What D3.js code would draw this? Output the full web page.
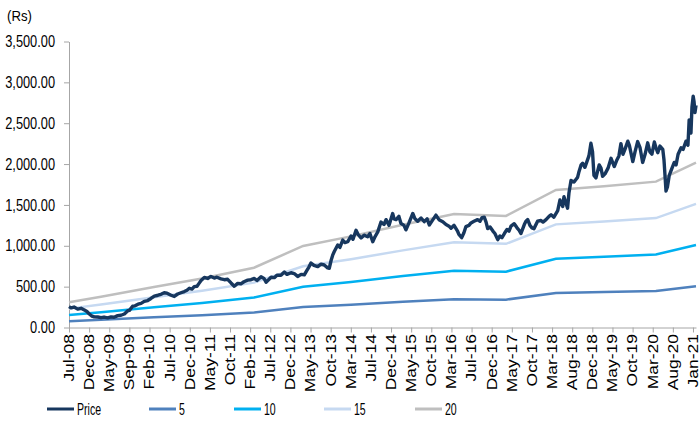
<!DOCTYPE html>
<html>
<head>
<meta charset="utf-8">
<script src="https://cdn.jsdelivr.net/npm/d3@7/dist/d3.min.js"></script>
<style>
  body { margin: 0; background: #fff; }
  svg text { font-family: "Liberation Sans", Arial, sans-serif; fill: #000; }
</style>
</head>
<body>
<div id="chart"></div>
<script>
// x axis: trading-day index, a label every 100 days
const tickLabels = ["Jul-08","Dec-08","May-09","Sep-09","Feb-10","Jul-10","Dec-10","May-11","Oct-11","Feb-12",
  "Jul-12","Dec-12","May-13","Oct-13","Mar-14","Jul-14","Dec-14","May-15","Oct-15","Mar-16",
  "Jul-16","Dec-16","May-17","Oct-17","Mar-18","Aug-18","Dec-18","May-19","Oct-19","Mar-20",
  "Aug-20","Jan-21"];
const yTicks = [0, 500, 1000, 1500, 2000, 2500, 3000, 3500];

// PE band knots (day index, value)
const bandDays = [0, 159, 422, 661, 919, 1163, 1401, 1659, 1913, 2171, 2419, 2658, 2916, 3115];
const band5  = [77, 94, 124, 150, 183, 250, 279, 315, 347, 341, 421, 433, 446, 504];
const band10 = [154, 188, 248, 300, 366, 499, 558, 629, 695, 683, 842, 865, 893, 1009];
const band15 = [231, 281, 371, 450, 549, 749, 836, 944, 1042, 1024, 1262, 1298, 1339, 1513];
const band20 = [308, 375, 495, 600, 732, 998, 1115, 1258, 1389, 1365, 1683, 1730, 1785, 2017];

// share price (day index, Rs)
const price = [
  [0,255],[10,240],[25,250],[43,225],[60,235],[76,215],[89,195],[101,165],[114,140],[126,130],
  [143,128],[159,120],[174,128],[192,118],[209,130],[224,125],[242,145],[258,150],[275,165],[292,205],
  [300,210],[316,260],[328,265],[343,285],[358,295],[374,320],[391,330],[407,355],[424,385],[442,395],
  [457,406],[473,425],[487,420],[507,395],[523,380],[540,410],[556,425],[573,440],[586,455],[598,480],
  [611,470],[622,500],[636,505],[646,540],[656,575],[672,612],[689,600],[705,625],[722,605],[735,615],
  [755,595],[772,585],[788,590],[805,545],[821,505],[838,540],[854,535],[869,560],[888,580],[904,585],
  [921,600],[934,575],[954,620],[969,600],[979,555],[994,590],[1004,615],[1020,610],[1033,640],[1053,640],
  [1070,680],[1083,650],[1103,670],[1119,660],[1136,625],[1153,650],[1169,645],[1182,700],[1192,740],[1202,790],
  [1217,760],[1236,745],[1252,775],[1268,765],[1285,730],[1293,725],[1302,820],[1310,885],[1318,930],[1335,1010],
  [1346,980],[1360,1070],[1371,1040],[1385,1050],[1401,1120],[1411,1080],[1426,1190],[1436,1140],[1451,1095],[1466,1130],
  [1484,1110],[1495,1150],[1509,1050],[1520,1110],[1534,1170],[1550,1290],[1565,1260],[1575,1320],[1590,1250],[1608,1395],
  [1615,1330],[1625,1320],[1639,1360],[1649,1275],[1664,1250],[1674,1195],[1689,1280],[1708,1395],[1719,1330],[1732,1300],
  [1749,1340],[1765,1295],[1779,1330],[1790,1255],[1808,1320],[1823,1375],[1838,1320],[1857,1295],[1873,1260],[1888,1240],
  [1898,1215],[1913,1250],[1931,1175],[1937,1140],[1951,1100],[1962,1160],[1972,1235],[1987,1250],[1997,1280],[2012,1300],
  [2030,1320],[2042,1300],[2052,1345],[2063,1350],[2072,1290],[2080,1210],[2092,1230],[2106,1180],[2116,1150],[2130,1075],
  [2141,1120],[2151,1100],[2163,1150],[2176,1200],[2186,1180],[2196,1240],[2212,1270],[2226,1220],[2236,1190],[2245,1150],
  [2262,1260],[2270,1300],[2279,1320],[2290,1250],[2300,1220],[2310,1210],[2328,1300],[2345,1310],[2355,1290],[2370,1320],
  [2385,1360],[2395,1380],[2409,1350],[2428,1430],[2439,1560],[2453,1480],[2459,1600],[2477,1460],[2484,1650],[2494,1800],
  [2509,1780],[2527,1840],[2534,1910],[2544,1990],[2552,2010],[2563,1960],[2573,2030],[2583,2100],[2593,2255],[2601,2150],
  [2608,1860],[2618,1830],[2634,1990],[2643,1950],[2651,1850],[2663,1880],[2678,1950],[2693,2070],[2709,1970],[2722,2050],
  [2732,2100],[2742,2250],[2752,2120],[2762,2180],[2776,2280],[2784,2230],[2801,2030],[2812,2150],[2825,2275],[2837,2200],
  [2850,2020],[2862,2120],[2875,2260],[2886,2150],[2896,2120],[2908,2270],[2916,2200],[2925,2140],[2936,2220],[2950,2180],
  [2956,2050],[2966,1670],[2973,1720],[2982,1860],[2991,1920],[3007,2020],[3016,1990],[3026,2120],[3041,2200],[3051,2180],
  [3065,2280],[3075,2230],[3081,2540],[3085,2400],[3090,2380],[3095,2700],[3101,2830],[3105,2770],[3110,2630],[3115,2720]
];

const seriesNames = ["Price", "5", "10", "15", "20"];
const seriesColors = ["#17375e", "#4f81bd", "#00b0f0", "#c6d9f1", "#bfbfbf"];

const W = 700, H = 425;
const svg = d3.select("#chart").append("svg")
  .attr("width", W)
  .attr("height", H);

const x = d3.scaleLinear().domain([0, 3115]).range([69, 696]);
const y = d3.scaleLinear().domain([0, 3500]).range([327.5, 41.5]);

// the source picture is squeezed sideways, so text is drawn narrow
const squeeze = 0.8;

// unit label
svg.append("text")
  .attr("transform", "translate(7,21) scale(0.88,1)")
  .style("font-size", "15px")
  .text("(Rs)");

// y axis
const yAxis = svg.append("g")
  .attr("transform", "translate(69,0)")
  .call(d3.axisLeft(y).tickValues(yTicks).tickFormat("").tickSize(5).tickSizeOuter(0));
yAxis.select(".domain").attr("stroke", "#a6a6a6");
yAxis.selectAll(".tick line").attr("stroke", "#a6a6a6");

svg.append("g").selectAll("text")
  .data(yTicks)
  .join("text")
  .attr("transform", d => `translate(55,${y(d)}) scale(${squeeze},1)`)
  .attr("text-anchor", "end")
  .attr("dy", "0.35em")
  .style("font-size", "16px")
  .text(d3.format(",.2f"));

// x axis
const xAxis = svg.append("g")
  .attr("transform", "translate(0,327.5)")
  .call(d3.axisBottom(x).tickValues(d3.range(0, 3101, 100)).tickFormat("").tickSize(5).tickSizeOuter(0));
xAxis.select(".domain").attr("stroke", "#a6a6a6");
xAxis.selectAll(".tick line").attr("stroke", "#a6a6a6");

svg.append("g").selectAll("text")
  .data(tickLabels)
  .join("text")
  .attr("transform", (d, i) => `translate(${x(i * 100)},334) scale(${squeeze},1) rotate(-90)`)
  .attr("text-anchor", "end")
  .attr("dy", "0.35em")
  .style("font-size", "17.5px")
  .text(d => d);

// lines
const line = d3.line().x(d => x(d[0])).y(d => y(d[1]));
const bands = [band5, band10, band15, band20];

// draw 20 first so the lower bands sit above it
[3, 2, 1, 0].forEach(k => {
  svg.append("path")
    .datum(bandDays.map((d, i) => [d, bands[k][i]]))
    .attr("fill", "none")
    .attr("stroke", seriesColors[k + 1])
    .attr("stroke-width", 2.5)
    .attr("d", line);
});

svg.append("path")
  .datum(price)
  .attr("fill", "none")
  .attr("stroke", seriesColors[0])
  .attr("stroke-width", 3.4)
  .attr("stroke-linejoin", "round")
  .attr("d", line);

// legend
const legendX = [47, 149, 234, 324, 415];
const legend = svg.append("g").attr("transform", "translate(0,409)");
const items = legend.selectAll("g")
  .data(seriesNames)
  .join("g")
  .attr("transform", (d, i) => `translate(${legendX[i]},0)`);
items.append("line")
  .attr("x1", 0).attr("x2", 27)
  .attr("stroke", (d, i) => seriesColors[i])
  .attr("stroke-width", 3);
items.append("text")
  .attr("transform", "translate(30,0) scale(0.66,1)")
  .attr("dy", "0.35em")
  .style("font-size", "16px")
  .text(d => d);
</script>
</body>
</html>
